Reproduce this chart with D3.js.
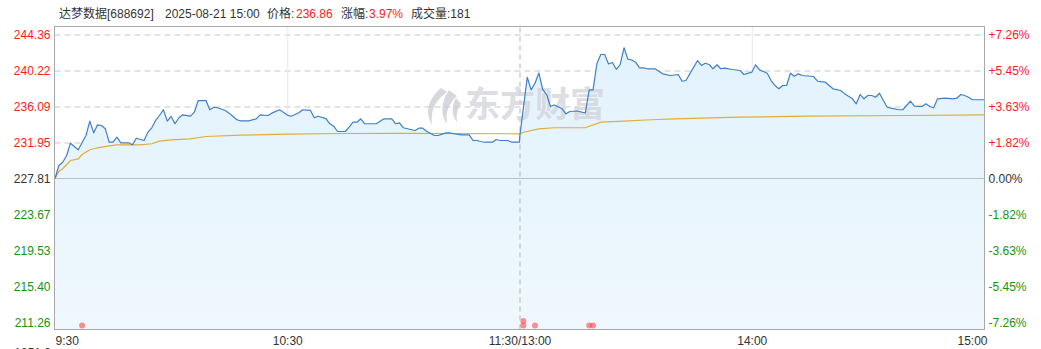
<!DOCTYPE html>
<html>
<head>
<meta charset="utf-8">
<script src="https://cdn.jsdelivr.net/npm/d3@7"></script>
<style>
  html, body { margin: 0; padding: 0; background: #fff; }
  svg { display: block; font-family: "Liberation Sans", Arial, sans-serif; }
</style>
</head>
<body>
<svg id="chart" width="1041" height="349"></svg>
<script>
// ---- data ----
const prevClose = 227.81;
const priceTicks = [244.36, 240.22, 236.09, 231.95, 227.81, 223.67, 219.53, 215.40, 211.26];
const pctLabels = ["+7.26%", "+5.45%", "+3.63%", "+1.82%", "0.00%", "-1.82%", "-3.63%", "-5.45%", "-7.26%"];
const timeTickMinutes = [0, 60, 120, 180, 240];
const timeTickLabels = ["9:30", "10:30", "11:30/13:00", "14:00", "15:00"];

// minute index since 9:30 (120 = 11:30 and 13:00)
const priceMinutes = [0,1,2,3,4,5,6,8,9,10,11,12,13,14,15,16,17,19,20,21,23,24,25,26,27,28,29,30,31,32,33,35,36,37,39,40,41,42,44,45,46,47,48,50,52,53,55,56,58,59,60,61,63,64,66,67,68,70,71,72,73,75,76,77,78,79,80,83,84,85,87,88,89,90,93,94,95,96,98,99,101,102,103,105,107,108,109,110,111,113,114,115,117,118,120,
  120,122,123,124,125,126,127,128,129,131,132,133,135,137,138,139,140,141,142,143,144,145,146,147,148,149,150,151,152,153,155,157,159,161,162,163,164,166,167,168,169,170,171,172,173,175,177,178,180,181,182,184,185,186,187,188,189,190,191,192,193,196,197,199,200,201,203,204,206,207,208,209,210,211,212,213,214,215,216,218,219,221,222,223,224,225,226,227,228,230,232,233,234,235,236,237,240];
const priceValues = [227.81,229.30,229.68,230.45,231.87,231.49,231.11,232.75,234.40,233.06,233.98,233.90,233.52,231.98,231.98,232.56,231.91,231.91,231.68,232.44,232.18,233.13,233.64,234.48,235.05,235.71,234.40,234.94,234.10,234.79,235.13,234.97,235.43,236.77,236.77,235.71,236.00,235.94,235.63,235.32,234.94,234.56,234.44,234.44,234.67,235.13,235.05,235.32,235.71,235.43,235.10,234.97,235.36,235.71,235.63,234.79,234.97,234.70,234.10,233.82,233.21,233.21,233.71,234.28,234.28,234.67,234.10,234.10,234.40,234.67,234.67,234.10,234.21,233.64,233.33,233.59,233.59,233.25,232.75,232.75,233.06,233.06,232.95,232.83,232.83,232.18,232.18,232.06,231.98,231.98,232.29,232.18,232.18,231.98,231.98,
  232.40,239.45,238.00,238.76,239.94,238.04,237.46,236.09,236.26,235.82,235.25,235.51,235.57,235.34,238.00,238.00,241.03,242.06,242.06,240.97,241.14,240.36,240.91,242.83,241.53,241.43,241.18,240.53,240.53,240.42,240.42,239.84,239.65,239.76,238.99,239.07,239.84,241.37,240.80,241.06,240.91,240.42,240.88,240.42,240.49,240.34,240.22,239.76,240.03,240.88,240.30,239.91,239.07,238.50,238.12,238.50,238.50,239.91,239.57,239.84,239.65,239.53,238.99,238.88,238.50,238.12,237.92,237.54,236.97,236.40,237.46,236.97,237.35,237.35,237.15,237.61,236.77,236.00,235.89,235.71,235.71,236.69,236.12,236.09,236.09,236.40,236.09,235.94,236.97,237.04,236.97,237.04,237.46,237.35,237.15,236.86,236.86];

const avgMinutes = [0,1,2,3,4,6,7,9,11,14,16,22,25,27,30,35,39,48,60,74,90,120,121,125,129,137,141,147,154,160,177,194,220,240];
const avgValues = [227.81,228.65,228.93,229.42,229.88,230.07,230.57,231.11,231.34,231.57,231.68,231.68,231.80,232.10,232.26,232.37,232.64,232.79,232.90,232.98,233.00,232.95,233.13,233.52,233.64,233.64,234.28,234.40,234.56,234.67,234.86,234.97,235.05,235.13];

const markMinutes = [7, 121, 121, 124, 138, 139];
const markStack = [0, 0, 1, 0, 0, 0];

// ---- layout ----
const svg = d3.select("#chart");
const L = 54.5, R = 984.5, T = 26.5, B = 329.5;
const x = d3.scaleLinear().domain([0, 240]).range([L + 0.5, R - 0.5]);
const y = d3.scaleLinear().domain([211.26, 244.36]).range([322.5, 34.5]);

const RED = "#ff1a1a", GREEN = "#149414", GRAY = "#333";
const colorFor = v => Math.abs(v - prevClose) < 0.001 ? GRAY : (v > prevClose ? RED : GREEN);

// gradient
const defs = svg.append("defs");
const grad = defs.append("linearGradient").attr("id", "fillGrad").attr("x1", 0).attr("y1", 0).attr("x2", 0).attr("y2", 1);
grad.append("stop").attr("offset", "0%").attr("stop-color", "#e2f2fc");
grad.append("stop").attr("offset", "100%").attr("stop-color", "#eff8fe");

// horizontal grid (dashed) via axis
const gridG = svg.append("g").attr("transform", `translate(${L},0)`)
  .call(d3.axisLeft(y).tickValues(priceTicks.filter(v => v !== prevClose)).tickSize(-(R - L)).tickFormat(""));
gridG.select(".domain").remove();
gridG.selectAll("line").attr("stroke", "#c8c8c8").attr("stroke-dasharray", "6,4");

// vertical grid
const vGrid = svg.append("g").attr("transform", `translate(0,${B})`)
  .call(d3.axisBottom(x).tickValues([60, 180]).tickSize(-(B - T)).tickFormat(""));
vGrid.select(".domain").remove();
vGrid.selectAll("line").attr("stroke", "#e8e8e8");

// area + lines
const pts = priceMinutes.map((m, i) => [m, priceValues[i]]);
const area = d3.area().x(d => x(d[0])).y0(B).y1(d => y(d[1]));
svg.append("path").datum(pts).attr("d", area).attr("fill", "url(#fillGrad)");

// midday dashed line
const mid = svg.append("g").attr("transform", `translate(0,${B})`)
  .call(d3.axisBottom(x).tickValues([120]).tickSize(-(B - T)).tickFormat(""));
mid.select(".domain").remove();
mid.selectAll("line").attr("stroke", "#b5b5b5").attr("stroke-dasharray", "5,4");

// prev close line
svg.append("line").attr("x1", L).attr("x2", R).attr("y1", y(prevClose)).attr("y2", y(prevClose))
  .attr("stroke", "#b9bec4").attr("stroke-width", 1);

// watermark
const wm = svg.append("g").attr("opacity", 0.75);
wm.append("path")
  .attr("d", "M441,88 C429,98 424,112 432,125 C430,110 436,100 447,92 Z M449,90 C441,102 440,114 447,124 C445,111 450,102 457,96 Z M456,98 C451,107 452,116 457,122 C456,113 458,108 461,104 Z")
  .attr("fill", "#c9cbd3");
wm.append("text").attr("x", 465).attr("y", 117).text("东方财富")
  .attr("font-family", "'Noto Sans CJK SC', sans-serif").attr("font-weight", "bold")
  .attr("font-size", 35).attr("fill", "#d2d4da").attr("letter-spacing", 0);

const line = d3.line().x(d => x(d[0])).y(d => y(d[1]));
svg.append("path").datum(avgMinutes.map((m, i) => [m, avgValues[i]])).attr("d", line)
  .attr("fill", "none").attr("stroke", "#e2ac3a").attr("stroke-width", 1.2);
svg.append("path").datum(pts).attr("d", line)
  .attr("fill", "none").attr("stroke", "#3f7fca").attr("stroke-width", 1.2).attr("stroke-linejoin", "round");

// marks
svg.append("g").selectAll("circle").data(markMinutes).join("circle")
  .attr("cx", d => x(d)).attr("cy", (d, i) => 325.5 - markStack[i] * 4.5).attr("r", 3)
  .attr("fill", "rgba(255,70,70,0.6)");

// frame
svg.append("rect").attr("x", L).attr("y", T).attr("width", R - L).attr("height", B - T)
  .attr("fill", "none").attr("stroke", "#a8a8a8").attr("stroke-width", 1);

// left axis labels
const la = svg.append("g").attr("transform", `translate(${L},0)`)
  .call(d3.axisLeft(y).tickValues(priceTicks).tickSize(0).tickPadding(4).tickFormat(d => d.toFixed(2)));
la.select(".domain").remove();
la.selectAll("text").attr("font-size", 12).attr("font-family", "'Liberation Sans', Arial, sans-serif")
  .attr("fill", d => colorFor(d));

// right axis labels
const ra = svg.append("g").attr("transform", `translate(${R},0)`)
  .call(d3.axisRight(y).tickValues(priceTicks).tickSize(0).tickPadding(4).tickFormat((d, i) => pctLabels[i]));
ra.select(".domain").remove();
ra.selectAll("text").attr("font-size", 12).attr("font-family", "'Liberation Sans', Arial, sans-serif")
  .attr("fill", d => colorFor(d));

// bottom axis labels
const ba = svg.append("g").attr("transform", `translate(0,${B})`)
  .call(d3.axisBottom(x).tickValues(timeTickMinutes).tickSize(0).tickPadding(7).tickFormat((d, i) => timeTickLabels[i]));
ba.select(".domain").remove();
ba.selectAll("text").attr("font-size", 12).attr("font-family", "'Liberation Sans', Arial, sans-serif").attr("fill", GRAY)
  .attr("text-anchor", (d, i) => i === 0 ? "start" : (i === timeTickMinutes.length - 1 ? "end" : "middle"))
  .attr("dx", (d, i) => i === timeTickMinutes.length - 1 ? 3 : 0);

// cut-off label at bottom-left (only its top edge shows in the reference)
svg.append("text").attr("x", 51).attr("y", 357).attr("text-anchor", "end")
  .attr("font-size", 12).attr("fill", GRAY).text("1851.0");

// title
const title = [
  { t: "达梦数据[688692]", x: 59, c: GRAY },
  { t: "2025-08-21 15:00", x: 165, c: GRAY },
  { t: "价格:", x: 267, c: GRAY },
  { t: "236.86", x: 296, c: RED },
  { t: "涨幅:", x: 341, c: GRAY },
  { t: "3.97%", x: 369, c: RED },
  { t: "成交量:181", x: 411, c: GRAY }
];
svg.append("g").selectAll("text").data(title).join("text")
  .attr("x", d => d.x).attr("y", 18).attr("font-size", 12)
  .attr("font-family", "'Liberation Sans', 'Noto Sans CJK SC', Arial, sans-serif")
  .attr("fill", d => d.c).text(d => d.t);
</script>
</body>
</html>
